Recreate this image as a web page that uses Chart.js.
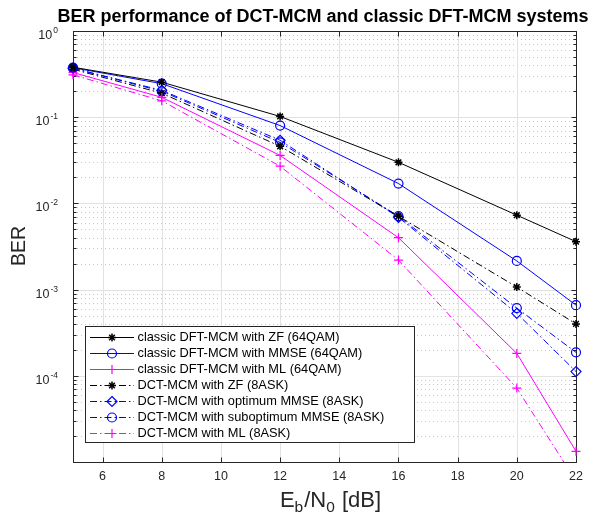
<!DOCTYPE html>
<html><head><meta charset="utf-8">
<script src="https://cdn.jsdelivr.net/npm/chart.js@4.4.1/dist/chart.umd.min.js"></script>
<style>html,body{margin:0;padding:0;background:#fff}#wrap{width:598px;height:517px;position:relative}</style>
</head><body><div id="wrap"><canvas id="c"></canvas></div>
<script>
// ---- data ----
const ebn0 = [5, 8, 12, 16, 20, 22];
const dftZF      = [0.38, 0.255, 0.102, 0.030, 0.0073, 0.0036];
const dftMMSE    = [0.375, 0.245, 0.080, 0.017, 0.00215, 0.00066];
const dftML      = [0.33, 0.17, 0.036, 0.0040, 0.000182, 0.0000133];
const dctZF      = [0.36, 0.19, 0.046, 0.0071, 0.00107, 0.00040];
const dctOptMMSE = [0.37, 0.205, 0.054, 0.0069, 0.00053, 0.000112];
const dctSubMMSE = [0.37, 0.20, 0.051, 0.0071, 0.00061, 0.000187];
const dctML      = [0.31, 0.155, 0.027, 0.0022, 0.000072, 0.000006];
const seriesLabels = [
  'classic DFT-MCM with ZF (64QAM)',
  'classic DFT-MCM with MMSE (64QAM)',
  'classic DFT-MCM with ML (64QAM)',
  'DCT-MCM with ZF (8ASK)',
  'DCT-MCM with optimum MMSE (8ASK)',
  'DCT-MCM with suboptimum MMSE (8ASK)',
  'DCT-MCM with ML (8ASK)'
];
const xTicks = [6, 8, 10, 12, 14, 16, 18, 20, 22];
const yTickExps = [0, -1, -2, -3, -4];
const titleText = 'BER performance of DCT-MCM and classic DFT-MCM systems';

// ---- styles ----
const FONT = '"Liberation Sans", Arial, Helvetica, sans-serif';
const AX = '#262626';
const DASHDOT = [7, 3, 1.5, 3];
const styles = [
  {c:'#000000', dash:[], ps:'star', r:4},
  {c:'#0000ff', dash:[], ps:'circle', r:4.5},
  {c:'#ff00ff', dash:[], ps:'cross', r:4.5},
  {c:'#000000', dash:DASHDOT, ps:'star', r:4},
  {c:'#0000ff', dash:DASHDOT, ps:'rectRot', r:5},
  {c:'#0000ff', dash:DASHDOT, ps:'circle', r:4.5},
  {c:'#ff00ff', dash:DASHDOT, ps:'cross', r:4.5}
];
const values = [dftZF, dftMMSE, dftML, dctZF, dctOptMMSE, dctSubMMSE, dctML];

const datasets = values.map((v, i) => ({
  label: seriesLabels[i],
  data: ebn0.map((x, j) => ({x, y: v[j]})),
  borderColor: styles[i].c,
  backgroundColor: 'rgba(0,0,0,0)',
  pointBorderColor: styles[i].c,
  pointBackgroundColor: 'rgba(0,0,0,0)',
  borderWidth: 1,
  pointBorderWidth: styles[i].ps === 'star' ? 1.5 : 1.2,
  borderDash: styles[i].dash,
  pointStyle: styles[i].ps,
  pointRadius: styles[i].r,
  pointHoverRadius: styles[i].r,
  tension: 0,
  clip: {left: 12, right: 12, top: 12, bottom: 0}
}));

function drawMarker(ctx, ps, x, y, r) {
  ctx.beginPath();
  if (ps === 'circle') { ctx.arc(x, y, r, 0, Math.PI*2); }
  else if (ps === 'cross') { ctx.moveTo(x-r,y); ctx.lineTo(x+r,y); ctx.moveTo(x,y-r); ctx.lineTo(x,y+r); }
  else if (ps === 'rectRot') { ctx.moveTo(x,y-r); ctx.lineTo(x+r,y); ctx.lineTo(x,y+r); ctx.lineTo(x-r,y); ctx.closePath(); }
  else if (ps === 'star') {
    const d = r*Math.SQRT1_2;
    ctx.moveTo(x-r,y); ctx.lineTo(x+r,y); ctx.moveTo(x,y-r); ctx.lineTo(x,y+r);
    ctx.moveTo(x-d,y-d); ctx.lineTo(x+d,y+d); ctx.moveTo(x-d,y+d); ctx.lineTo(x+d,y-d);
  }
  ctx.stroke();
}

const deco = {
  id: 'deco',
  beforeDatasetsDraw(chart) {
    const {ctx, chartArea: a, scales: {x, y}} = chart;
    ctx.save();
    ctx.lineWidth = 1;
    // minor y grid (dotted)
    ctx.strokeStyle = '#c8c8c8';
    ctx.setLineDash([1, 3]);
    for (let e = -5; e < 0; e++) for (let m = 2; m <= 9; m++) {
      const py = Math.round(y.getPixelForValue(m * Math.pow(10, e))) + 0.5;
      if (py < a.top || py > a.bottom) continue;
      ctx.beginPath(); ctx.moveTo(a.left, py); ctx.lineTo(a.right, py); ctx.stroke();
    }
    ctx.setLineDash([]);
    ctx.strokeStyle = '#e2e2e2';
    for (let e = -4; e <= 0; e++) {
      const py = Math.round(y.getPixelForValue(Math.pow(10, e))) + 0.5;
      ctx.beginPath(); ctx.moveTo(a.left, py); ctx.lineTo(a.right, py); ctx.stroke();
    }
    xTicks.forEach(t => {
      const px = Math.round(x.getPixelForValue(t)) + 0.5;
      ctx.beginPath(); ctx.moveTo(px, a.top); ctx.lineTo(px, a.bottom); ctx.stroke();
    });
    // axes box
    ctx.strokeStyle = AX;
    const L = Math.round(a.left)+0.5, R = Math.round(a.right)+0.5, T = Math.round(a.top)+0.5, B = Math.round(a.bottom)+0.5;
    ctx.strokeRect(L, T, R-L, B-T);
    // x ticks
    xTicks.forEach(t => {
      const px = Math.round(x.getPixelForValue(t)) + 0.5;
      ctx.beginPath(); ctx.moveTo(px, B); ctx.lineTo(px, B-5); ctx.moveTo(px, T); ctx.lineTo(px, T+5); ctx.stroke();
    });
    // y ticks
    for (let e = -5; e <= 0; e++) {
      const py = Math.round(y.getPixelForValue(Math.pow(10, e))) + 0.5;
      ctx.beginPath(); ctx.moveTo(L, py); ctx.lineTo(L+5, py); ctx.moveTo(R, py); ctx.lineTo(R-5, py); ctx.stroke();
      if (e < 0) for (let m = 2; m <= 9; m++) {
        const q = Math.round(y.getPixelForValue(m*Math.pow(10, e))) + 0.5;
        if (q < a.top || q > a.bottom) continue;
        ctx.beginPath(); ctx.moveTo(L, q); ctx.lineTo(L+3, q); ctx.moveTo(R, q); ctx.lineTo(R-3, q); ctx.stroke();
      }
    }
    // x tick labels
    ctx.fillStyle = AX;
    ctx.font = '12.5px ' + FONT;
    ctx.textAlign = 'center'; ctx.textBaseline = 'middle';
    xTicks.forEach(t => ctx.fillText(String(t), x.getPixelForValue(t), a.bottom + 15));
    // y tick labels 10^e
    yTickExps.forEach(e => {
      const py = y.getPixelForValue(Math.pow(10, e));
      const sup = e === 0 ? '0' : '-' + (-e);
      ctx.font = '8.5px ' + FONT;
      const sw = ctx.measureText(sup).width;
      const rx = 58;
      ctx.textAlign = 'left'; ctx.textBaseline = 'alphabetic';
      ctx.fillText(sup, rx - sw, py + 2);
      ctx.font = '12.5px ' + FONT;
      ctx.textAlign = 'right';
      ctx.fillText('10', rx - sw - 1, py + 8);
    });
    // y label
    ctx.save();
    ctx.translate(25, 246);
    ctx.rotate(-Math.PI/2);
    ctx.font = '19.5px ' + FONT;
    ctx.textAlign = 'center'; ctx.textBaseline = 'alphabetic';
    ctx.fillText('BER', 0, 0);
    ctx.restore();
    // x label with subscripts
    const parts = [['E',22,0],['b',15.5,5],['/N',22,0],['0',15.5,5],[' [dB]',22,0]];
    let tw = 0;
    parts.forEach(p => { ctx.font = p[1] + 'px ' + FONT; tw += ctx.measureText(p[0]).width + (p[1] < 20 ? 1 : 0); });
    let cx = (a.left + a.right)/2 + 6 - tw/2;
    ctx.textAlign = 'left'; ctx.textBaseline = 'alphabetic';
    parts.forEach(p => { ctx.font = p[1] + 'px ' + FONT; ctx.fillText(p[0], cx, 506.5 + p[2]); cx += ctx.measureText(p[0]).width + (p[1] < 20 ? 1 : 0); });
    // title
    ctx.fillStyle = '#000';
    ctx.font = 'bold 18px ' + FONT;
    ctx.textAlign = 'center'; ctx.textBaseline = 'middle';
    ctx.fillText(titleText, 323, 17);
    ctx.restore();
  },
  afterDatasetsDraw(chart) {
    const {ctx} = chart;
    ctx.save();
    const bx = 85.5, by = 326.5, bw = 329, bh = 116;
    ctx.fillStyle = '#fff';
    ctx.fillRect(bx, by, bw, bh);
    ctx.strokeStyle = AX; ctx.lineWidth = 1;
    ctx.strokeRect(bx, by, bw, bh);
    ctx.font = '12.8px ' + FONT;
    ctx.textAlign = 'left'; ctx.textBaseline = 'middle';
    seriesLabels.forEach((lab, i) => {
      const ry = Math.round(336.7 + i * 16) + 0.5;
      const s = styles[i];
      ctx.strokeStyle = s.c; ctx.lineWidth = 1;
      ctx.setLineDash(s.dash);
      ctx.beginPath(); ctx.moveTo(90, ry); ctx.lineTo(134, ry); ctx.stroke();
      ctx.setLineDash([]);
      ctx.lineWidth = s.ps === 'star' ? 1.5 : 1.2;
      drawMarker(ctx, s.ps, 112, ry, s.r);
      ctx.fillStyle = '#000';
      ctx.fillText(lab, 137.5, ry);
    });
    ctx.restore();
  }
};

new Chart(document.getElementById('c'), {
  type: 'line',
  data: { datasets },
  options: {
    responsive: true,
    maintainAspectRatio: false,
    animation: false,
    events: [],
    layout: { padding: { left: 73, right: 22, top: 31, bottom: 55 } },
    plugins: { legend: { display: false }, title: { display: false }, tooltip: { enabled: false } },
    scales: {
      x: { type: 'linear', min: 5, max: 22, display: false, grid: { display: false } },
      y: { type: 'logarithmic', min: 1e-5, max: 1, display: false, grid: { display: false } }
    }
  },
  plugins: [deco]
});
</script>
</body></html>
